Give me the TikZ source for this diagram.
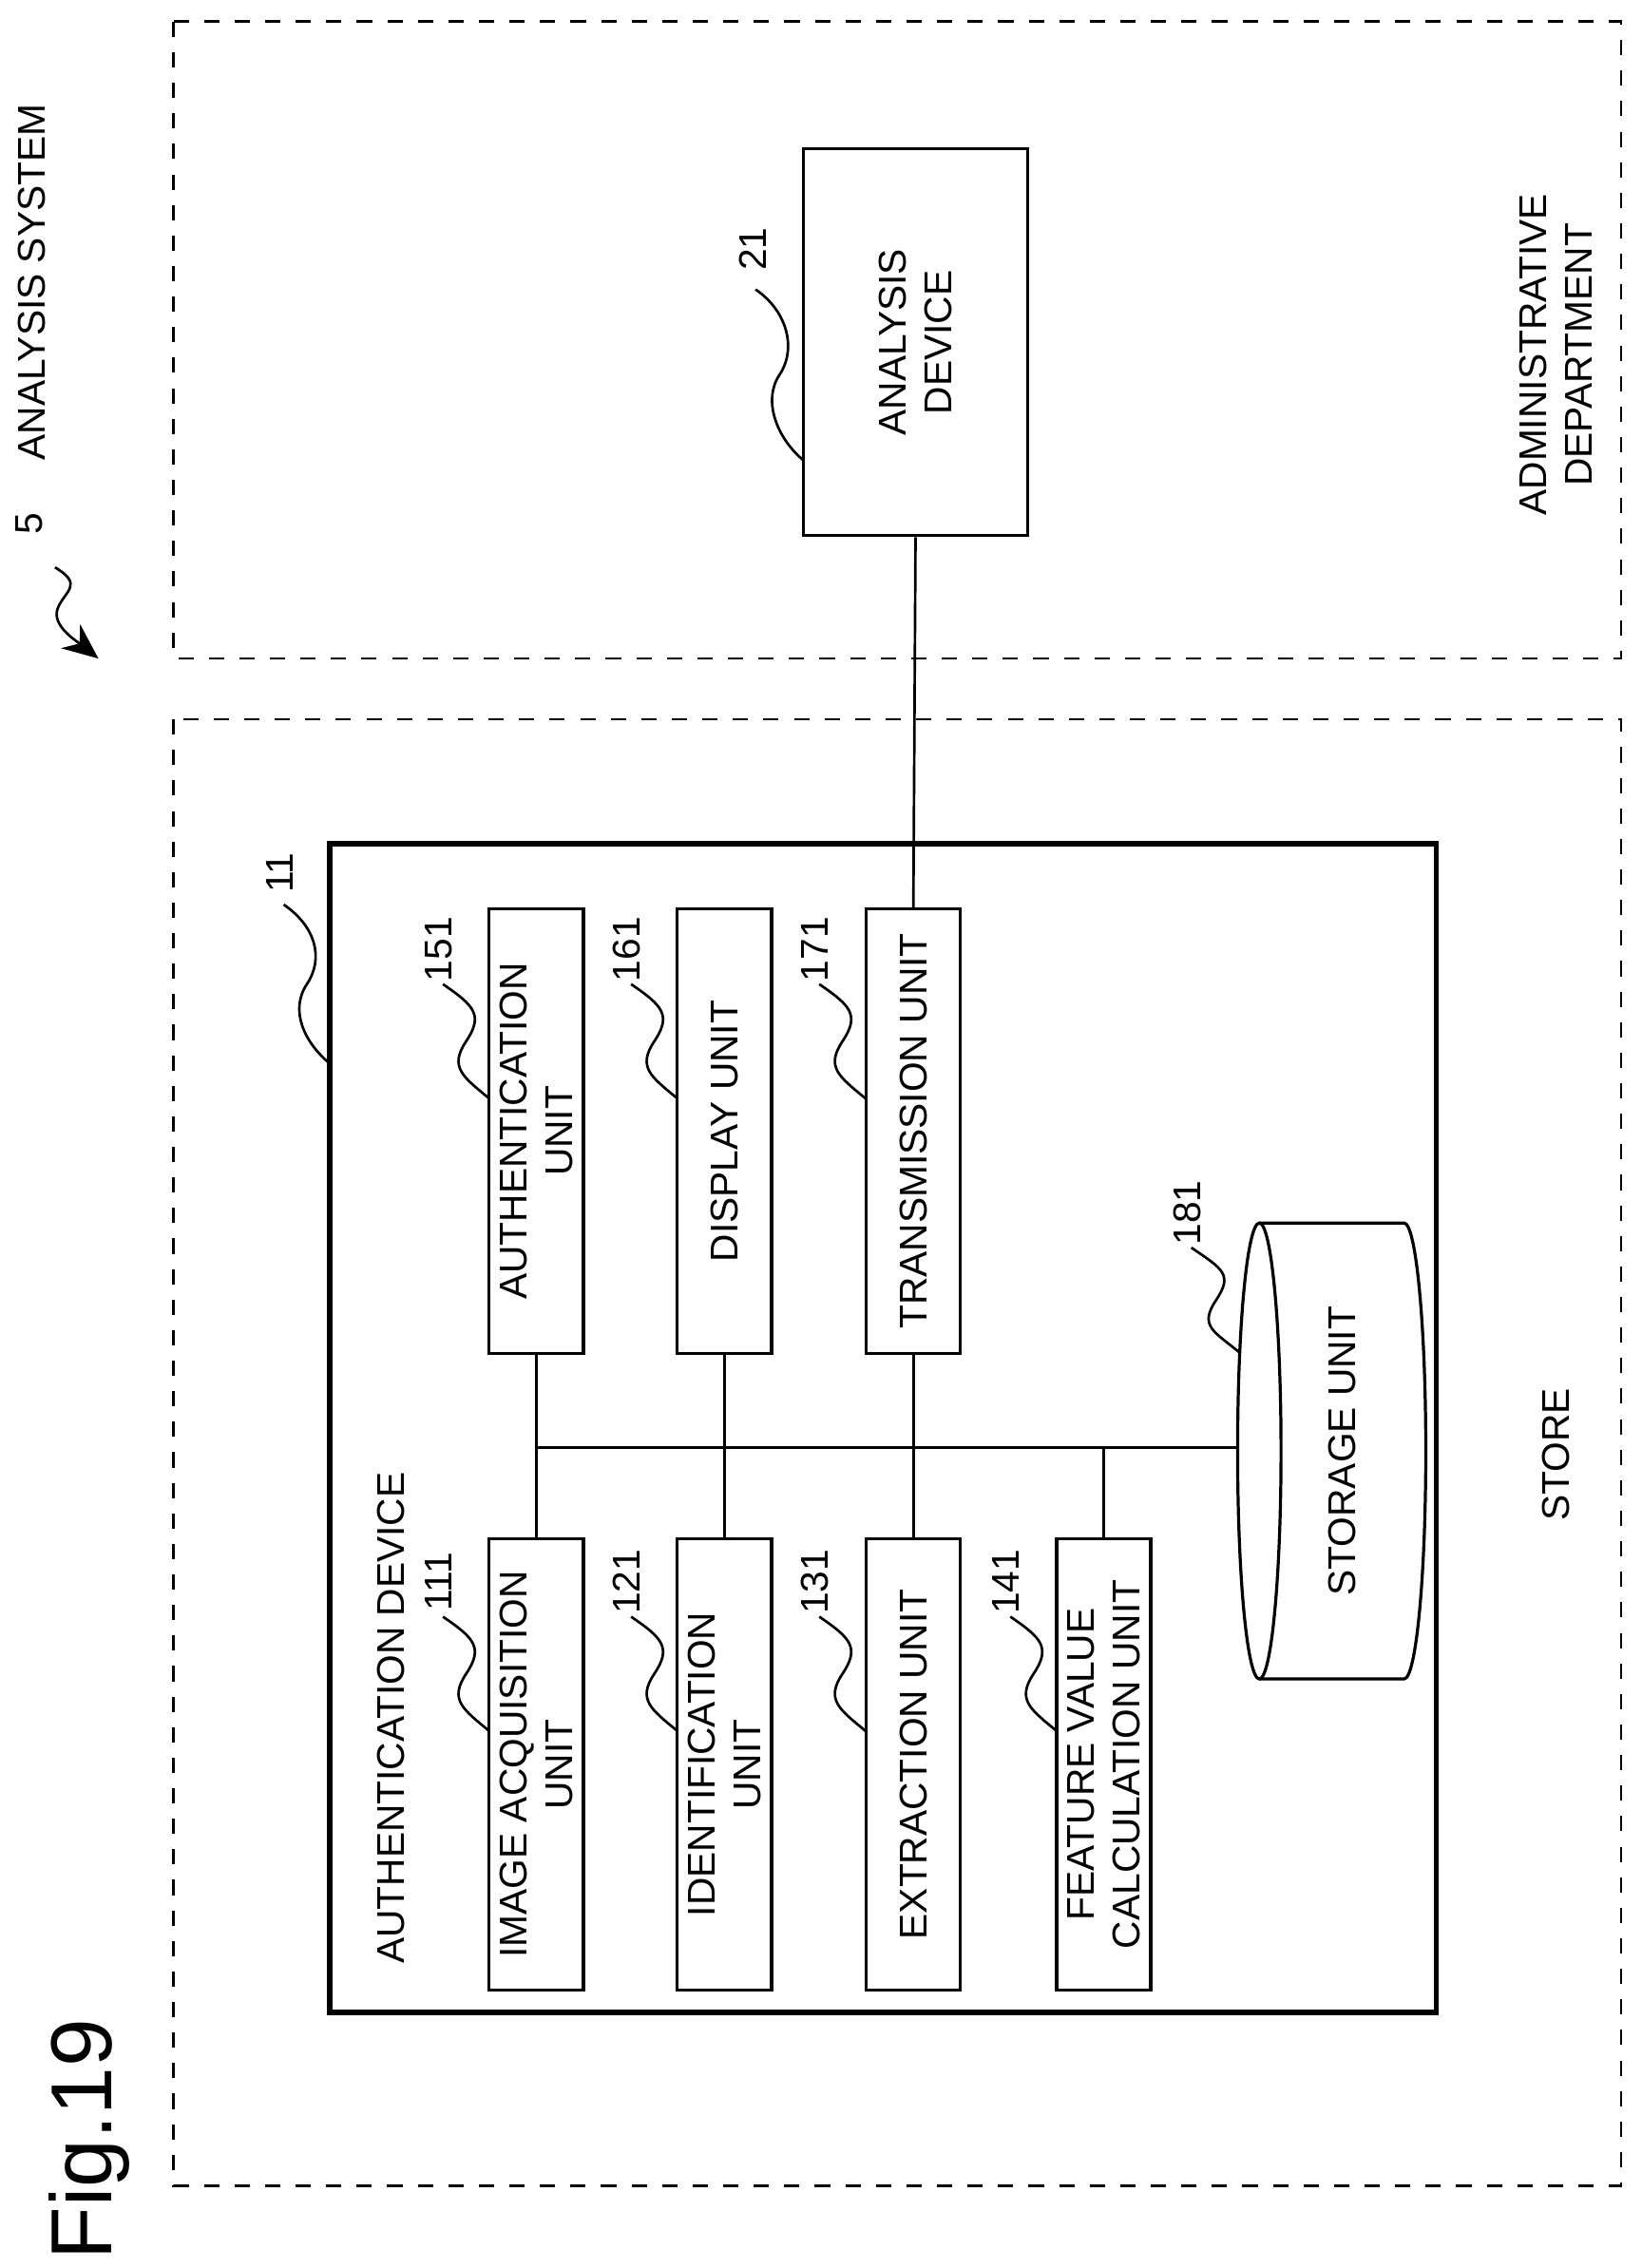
\documentclass[tikz,border=0pt]{standalone}
\usepackage{fontspec}
\setmainfont{Liberation Sans}
\usetikzlibrary{calc,arrows.meta}
\begin{document}
\begin{tikzpicture}[x=0.01cm,y=0.01cm,
  txt/.style={font=\fontsize{7.6}{9}\selectfont,align=center,inner sep=0pt},
  box/.style={draw,line width=0.6pt,rotate=90,txt},
  unit/.style={box,minimum height=0.65cm},
  lbl/.style={txt,rotate=90},
  zone/.style={draw,dashed,line width=0.5pt},
  lead/.style={line width=0.5pt}]
\useasboundingbox (0,0) rectangle (1134,-1567);
\newcommand{\leadto}[2]{\draw[lead] (#1) .. controls +(22,-15) and +(12,18) .. ($(#1)!0.5!(#2)$) .. controls +(-12,-18) and +(-18,15) .. (#2);}
% zones
\draw[zone] (120,-15) rectangle (1120,-455);
\draw[zone] (120,-497) rectangle (1120,-1510);
\node[lbl] (admin) at (1075,-245) {ADMINISTRATIVE\\DEPARTMENT};
\node[lbl] (store) at (1075,-1005) {STORE};
\node[lbl] (sys) at (22,-195) {ANALYSIS SYSTEM};
\node[lbl] (l5) at (20,-362) {5};
\coordinate (a5) at (68,-455);
\draw[lead,-{Stealth[length=7pt,width=6pt]}] (38,-392) .. controls +(20,-12) and +(5,12) .. (40,-420) .. controls +(-5,-12) and +(-15,12) .. (a5);
\node[lbl,font=\fontsize{17}{20}\selectfont] (fig) at (62,-1478) {Fig.19};
% analysis device
\node[box,minimum width=2.67cm,minimum height=1.55cm] (ad) at (632.5,-236.5) {ANALYSIS\\DEVICE};
\node[lbl] (l21) at (520,-172) {21};
\coordinate (e21) at (555,-318);
\leadto{522,-200}{e21}
% authentication device
\node[draw,line width=1.1pt,minimum width=7.64cm,minimum height=8.07cm] (auth) at (610,-986.5) {};
\node[lbl] (authl) at (270,-1187) {AUTHENTICATION DEVICE};
\node[lbl] (l11) at (193,-603) {11};
\coordinate (e11) at (228,-735);
\leadto{196,-625}{e11}
% units
\node[unit,minimum width=3.07cm] (b151) at (370.5,-781.5) {AUTHENTICATION\\UNIT};
\node[unit,minimum width=3.07cm] (b161) at (500.5,-781.5) {DISPLAY UNIT};
\node[unit,minimum width=3.07cm] (b171) at (631,-781.5) {TRANSMISSION UNIT};
\node[unit,minimum width=3.12cm] (b111) at (370.5,-1219) {IMAGE ACQUISITION\\UNIT};
\node[unit,minimum width=3.12cm] (b121) at (500.5,-1219) {IDENTIFICATION\\UNIT};
\node[unit,minimum width=3.12cm] (b131) at (631,-1219) {EXTRACTION UNIT};
\node[unit,minimum width=3.12cm] (b141) at (762.5,-1219) {FEATURE VALUE\\CALCULATION UNIT};
% labels
\node[lbl] (l151) at (303,-656) {151};
\node[lbl] (l161) at (433,-656) {161};
\node[lbl] (l171) at (563,-656) {171};
\node[lbl] (l111) at (303,-1093) {111};
\node[lbl] (l121) at (433,-1093) {121};
\node[lbl] (l131) at (563,-1093) {131};
\node[lbl] (l141) at (695,-1093) {141};
\node[lbl] (l181) at (820,-838) {181};
\leadto{306,-680}{338,-759}
\leadto{436,-680}{468,-759}
\leadto{566,-680}{598,-759}
\leadto{306,-1117}{338,-1196}
\leadto{436,-1117}{468,-1196}
\leadto{566,-1117}{598,-1196}
\leadto{698,-1117}{730,-1196}
\leadto{823,-862}{857,-935}
% storage cylinder
\draw[line width=0.6pt] (870,-1002.5) ellipse (15 and 157.5);
\draw[line width=0.6pt] (870,-845) -- (970,-845) arc (90:-90:15 and 157.5) -- (870,-1160);
\node[lbl] (stor) at (927,-1002.5) {STORAGE UNIT};
\coordinate (cylw) at (855,-1000);
% connectors
\coordinate (busL) at (370.5,-1000);
\draw[line width=0.5pt] (busL) -- (cylw);
\draw[line width=0.5pt] (b151.west) -- (b111.east);
\draw[line width=0.5pt] (b161.west) -- (b121.east);
\draw[line width=0.5pt] (b171.west) -- (b131.east);
\draw[line width=0.5pt] (b141.east) -- (b141.east |- busL);
\draw[line width=0.5pt] (ad.west) -- (b171.east);
\end{tikzpicture}
\end{document}
